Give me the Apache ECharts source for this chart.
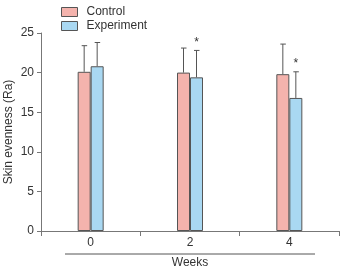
<!DOCTYPE html>
<html><head><meta charset="utf-8">
<script src="https://cdn.jsdelivr.net/npm/echarts@6/dist/echarts.min.js"></script>
<style>html,body{margin:0;padding:0;background:#fff}#c{width:346px;height:269px}</style>
</head><body><div id="c"></div>
<script>
const categories = ['0', '2', '4'];
const controlMean = [20.1, 20.0, 19.8];
const controlErr = [23.4, 23.1, 23.6];
const expMean = [20.8, 19.4, 16.8];
const expErr = [23.8, 22.8, 20.1];
const expSig = ['', '*', '*'];
const yTicks = [0, 5, 10, 15, 20, 25];

const font = 'Liberation Sans, Arial, sans-serif';
const chart = echarts.init(document.getElementById('c'));
const BW = 13;

function errSeries(name, mean, err, off, sig) {
  return {
    type: 'custom', name: name + '_err', z: 5,
    data: categories.map((c, i) => [i, mean[i], err[i]]),
    renderItem: function (params, api) {
      const base = api.coord([api.value(0), api.value(1)]);
      const top = api.coord([api.value(0), api.value(2)]);
      const x = base[0] + off;
      const children = [
        {type: 'line', shape: {x1: x, y1: base[1], x2: x, y2: top[1]}, style: {stroke: '#555', lineWidth: 1}},
        {type: 'line', shape: {x1: x - 2.5, y1: top[1], x2: x + 3, y2: top[1]}, style: {stroke: '#555', lineWidth: 1}}
      ];
      const s = sig ? sig[params.dataIndex] : '';
      if (s) {
        children.push({type: 'text', style: {text: s, x: x, y: top[1] - 2, align: 'center', verticalAlign: 'bottom', fill: '#333', font: '12px ' + font}});
      }
      return {type: 'group', children: children};
    }
  };
}

chart.setOption({
  animation: false,
  grid: {left: 41, right: 7, top: 33, bottom: 38, outerBoundsMode: 'none', containLabel: false},
  legend: {
    left: 56, top: 1, orient: 'vertical', itemWidth: 16, itemHeight: 9, itemGap: 2,
    icon: 'rect',
    itemStyle: {borderWidth: 1, borderColor: '#555'},
    textStyle: {fontFamily: font, fontSize: 12, color: '#333', padding: [0, 0, 0, 4]},
    data: ['Control', 'Experiment']
  },
  xAxis: {
    type: 'category', data: categories,
    axisLine: {lineStyle: {color: '#777'}},
    axisTick: {show: true, length: 5, lineStyle: {color: '#777'}},
    axisLabel: {fontFamily: font, fontSize: 12, color: '#333', margin: 6},
    name: 'Weeks', nameLocation: 'middle', nameGap: 26, nameMoveOverlap: false,
    nameTextStyle: {fontFamily: font, fontSize: 12, color: '#333'}
  },
  yAxis: {
    type: 'value', min: yTicks[0], max: yTicks[yTicks.length - 1], interval: 5,
    splitLine: {show: false},
    axisLine: {show: true, lineStyle: {color: '#777'}},
    axisTick: {show: true, length: 4, lineStyle: {color: '#777'}},
    axisLabel: {fontFamily: font, fontSize: 12, color: '#333', margin: 7},
    name: 'Skin evenness (Ra)', nameLocation: 'middle', nameGap: 26, nameMoveOverlap: false,
    nameTextStyle: {fontFamily: font, fontSize: 12, color: '#333'}
  },
  graphic: [{type: 'line', shape: {x1: 65, y1: 254, x2: 315, y2: 254}, style: {stroke: '#555', lineWidth: 1}}],
  series: [
    {name: 'Control', type: 'bar', data: controlMean, barWidth: BW, barGap: '0%',
     itemStyle: {color: '#f4b3ad', borderColor: '#555', borderWidth: 1}},
    {name: 'Experiment', type: 'bar', data: expMean, barWidth: BW, barGap: '0%',
     itemStyle: {color: '#a9d8f2', borderColor: '#555', borderWidth: 1}},
    errSeries('Control', controlMean, controlErr, -BW / 2, null),
    errSeries('Experiment', expMean, expErr, BW / 2, expSig)
  ]
});
</script></body></html>
